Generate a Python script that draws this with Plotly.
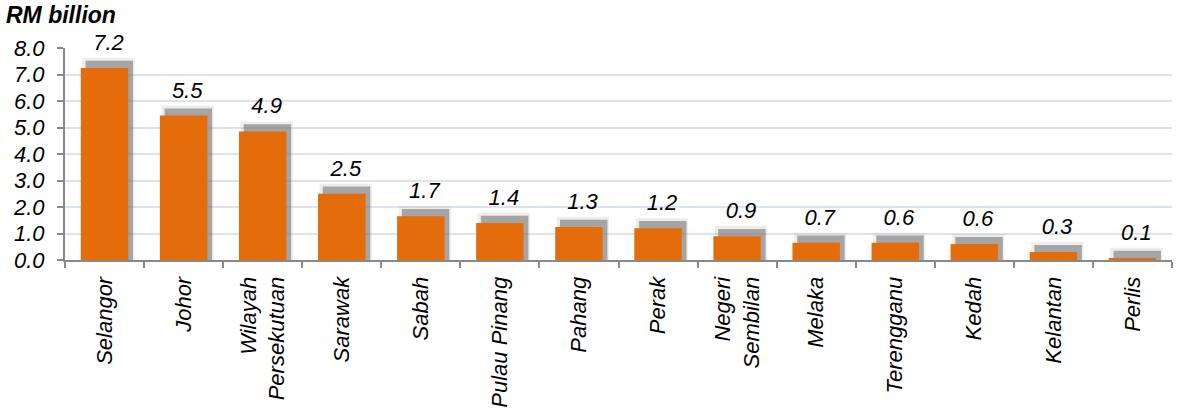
import plotly.graph_objects as go

states = ["Selangor", "Johor", "Wilayah<br>Persekutuan", "Sarawak", "Sabah", "Pulau Pinang",
          "Pahang", "Perak", "Negeri<br>Sembilan", "Melaka", "Terengganu", "Kedah",
          "Kelantan", "Perlis"]
values = [7.25, 5.45, 4.85, 2.5, 1.65, 1.4, 1.25, 1.2, 0.9, 0.65, 0.65, 0.6, 0.3, 0.08]
labels = ["7.2", "5.5", "4.9", "2.5", "1.7", "1.4", "1.3", "1.2", "0.9", "0.7", "0.6", "0.6", "0.3", "0.1"]
yticks = [0, 1, 2, 3, 4, 5, 6, 7, 8]

FONT = "Liberation Sans, Arial, sans-serif"
ORANGE = "#E46C0A"

fig = go.Figure()
# soft outer shadow (carries the value labels)
fig.add_trace(go.Bar(x=states, y=[v + 0.38 for v in values], width=0.66, offset=-0.28,
                     marker=dict(color="rgba(175,175,175,0.22)", line=dict(width=0)),
                     text=labels, textposition="outside", cliponaxis=False,
                     textfont=dict(family=FONT, size=22, color="#000000", style="italic"),
                     hoverinfo="skip", showlegend=False))
# inner darker shadow
fig.add_trace(go.Bar(x=states, y=[v + 0.27 for v in values], width=0.6, offset=-0.24,
                     marker=dict(color="rgba(105,105,105,0.55)", line=dict(width=0)),
                     hoverinfo="skip", showlegend=False))
fig.add_trace(go.Bar(x=states, y=values, width=0.6, offset=-0.3,
                     marker=dict(color=ORANGE, line=dict(width=0)),
                     showlegend=False))

fig.update_layout(
    width=1179, height=417,
    margin=dict(l=65, r=7, t=48, b=157, autoexpand=False),
    barmode="overlay",
    plot_bgcolor="white", paper_bgcolor="white",
    font=dict(family=FONT, color="#000000"),
    annotations=[dict(text="<b><i>RM billion</i></b>", xref="paper", yref="paper",
                      x=0, y=1, xanchor="left", yanchor="middle", xshift=-61, yshift=33,
                      showarrow=False, font=dict(family=FONT, size=23, color="#000000"))],
)
fig.update_yaxes(range=[0, 8], tickvals=yticks, tickformat=".1f",
                 tickfont=dict(family=FONT, size=22, style="italic", color="#000000"),
                 ticklabelstandoff=8,
                 showgrid=True, gridcolor="#DCE2EE", gridwidth=1.5,
                 showline=True, linecolor="#888888", linewidth=2,
                 ticks="outside", ticklen=6, tickcolor="#888888", tickwidth=2,
                 zeroline=False, automargin=False)
fig.update_xaxes(tickangle=-90, tickson="boundaries",
                 tickfont=dict(family=FONT, size=22, style="italic", color="#000000"),
                 ticklabelstandoff=6,
                 showline=True, linecolor="#888888", linewidth=2,
                 ticks="outside", ticklen=6, tickcolor="#888888", tickwidth=2,
                 range=[-0.5, 13.5], automargin=False)

fig.write_html("out.html", config={"displayModeBar": False},
               post_script="document.body.style.margin='0';")
